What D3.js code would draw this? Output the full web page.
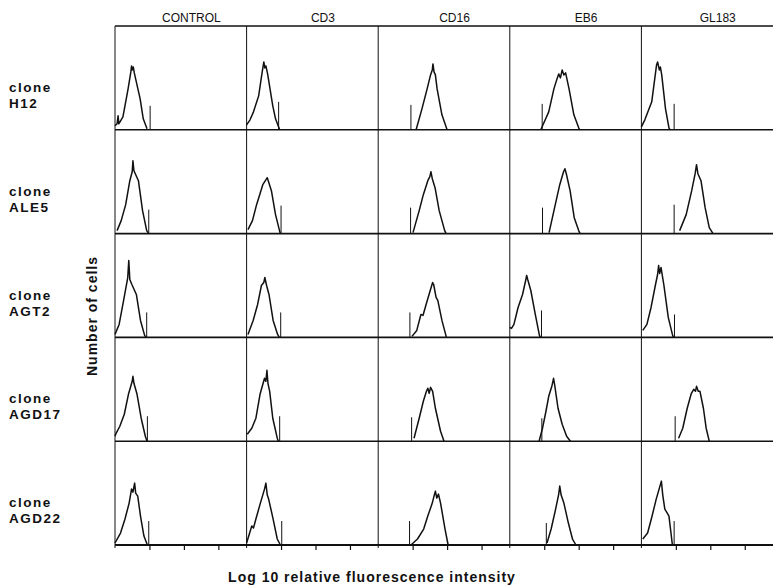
<!DOCTYPE html>
<html>
<head>
<meta charset="utf-8">
<script src="https://cdn.jsdelivr.net/npm/d3@7"></script>
<style>
  html, body { margin: 0; padding: 0; background: #fff; }
  svg { display: block; }
</style>
</head>
<body>
<div id="chart"></div>
<script>
const width = 773;
const height = 586;

const antibodies = ["CONTROL", "CD3", "CD16", "EB6", "GL183"];
const clones = ["H12", "ALE5", "AGT2", "AGD17", "AGD22"];
const decadeTicks = [1, 2, 3];

// [log10 intensity, number of cells], one list per antibody
const histH12 = [
    [[0,4],[0.06,6],[0.09,14],[0.11,6],[0.23,13],[0.38,41],[0.46,58],[0.48,64],[0.5,60],[0.53,63],[0.56,57],[0.73,31],[0.82,11],[0.93,1]],
    [[0,5],[0.1,10],[0.2,18],[0.35,34],[0.44,55],[0.5,68],[0.53,62],[0.56,64],[0.61,56],[0.76,24],[0.84,11],[0.96,0]],
    [[1.1,0],[1.27,21],[1.42,41],[1.52,55],[1.57,60],[1.59,66],[1.62,58],[1.66,55],[1.71,41],[1.85,15],[2.0,0]],
    [[0.9,0],[1.13,18],[1.28,41],[1.37,51],[1.42,56],[1.47,52],[1.52,60],[1.57,55],[1.62,57],[1.72,41],[1.86,15],[2.0,2],[2.03,0]],
    [[0,3],[0.1,10],[0.3,28],[0.44,65],[0.47,68],[0.52,60],[0.55,63],[0.59,55],[0.7,21],[0.8,2],[0.83,0]]
];
const histALE5 = [
    [[0.06,3],[0.18,13],[0.31,29],[0.43,53],[0.5,62],[0.52,73],[0.55,63],[0.68,53],[0.8,23],[0.92,3],[0.98,0]],
    [[0.04,4],[0.17,13],[0.29,29],[0.47,49],[0.6,56],[0.72,43],[0.84,19],[0.97,1],[0.99,0]],
    [[1.01,1],[1.19,23],[1.31,39],[1.44,53],[1.5,57],[1.53,62],[1.57,55],[1.65,46],[1.77,23],[1.93,3],[1.97,0]],
    [[1.14,1],[1.32,29],[1.45,49],[1.56,62],[1.6,65],[1.64,60],[1.75,43],[1.87,16],[2.0,3],[2.04,0]],
    [[1.11,3],[1.3,19],[1.46,43],[1.56,60],[1.6,69],[1.64,60],[1.73,53],[1.85,26],[1.97,6],[2.08,0]]
];
const histAGT2 = [
    [[0,3],[0.12,13],[0.25,37],[0.37,60],[0.4,77],[0.43,58],[0.49,53],[0.62,43],[0.74,17],[0.86,2],[0.9,0]],
    [[0.04,3],[0.19,17],[0.32,33],[0.43,52],[0.5,55],[0.53,60],[0.58,52],[0.65,43],[0.77,17],[0.9,3],[0.95,0]],
    [[0.98,1],[1.12,7],[1.24,23],[1.3,22],[1.39,33],[1.51,47],[1.58,55],[1.61,53],[1.68,40],[1.73,37],[1.85,17],[1.98,0]],
    [[0,10],[0.05,9],[0.12,13],[0.24,30],[0.37,43],[0.46,57],[0.49,62],[0.52,58],[0.61,47],[0.74,23],[0.86,2],[0.89,0]],
    [[0.04,7],[0.16,13],[0.28,30],[0.41,53],[0.47,63],[0.5,72],[0.53,64],[0.57,70],[0.65,53],[0.78,20],[0.9,3],[0.93,0]]
];
const histAGD17 = [
    [[0,5],[0.02,7],[0.14,15],[0.27,27],[0.39,47],[0.5,60],[0.52,65],[0.55,58],[0.64,47],[0.76,23],[0.88,5],[0.93,0]],
    [[0.02,7],[0.15,13],[0.27,23],[0.39,47],[0.52,63],[0.56,60],[0.59,71],[0.62,58],[0.67,50],[0.76,23],[0.89,3],[0.92,0]],
    [[1.04,3],[1.19,23],[1.31,40],[1.4,50],[1.44,53],[1.48,48],[1.52,54],[1.58,50],[1.66,33],[1.81,10],[1.91,0]],
    [[0.85,0],[0.95,13],[1.05,30],[1.13,45],[1.22,55],[1.27,63],[1.3,57],[1.4,33],[1.52,17],[1.65,5],[1.76,0]],
    [[1.08,3],[1.2,13],[1.33,33],[1.45,48],[1.52,52],[1.57,50],[1.6,55],[1.65,50],[1.7,50],[1.8,33],[1.88,13],[1.97,0]]
];
const histAGD22 = [
    [[0,2],[0.16,12],[0.29,26],[0.41,42],[0.48,56],[0.52,53],[0.57,62],[0.6,52],[0.66,49],[0.74,29],[0.84,9],[0.94,0]],
    [[0,2],[0.15,19],[0.2,17],[0.27,26],[0.4,42],[0.52,56],[0.56,62],[0.6,50],[0.64,46],[0.77,26],[0.89,6],[0.98,0]],
    [[0.95,0],[1.14,6],[1.32,16],[1.44,29],[1.57,42],[1.62,49],[1.66,54],[1.7,47],[1.75,51],[1.81,42],[1.94,16],[2.03,0]],
    [[1.08,2],[1.2,16],[1.33,36],[1.42,51],[1.45,59],[1.49,50],[1.57,42],[1.7,22],[1.82,6],[1.92,0]],
    [[0.04,6],[0.18,12],[0.31,29],[0.43,46],[0.53,58],[0.58,64],[0.62,50],[0.68,36],[0.75,32],[0.8,29],[0.9,0]]
];

// gate cursor per panel: [log10 position, height]
const markersH12 = [[1.02,24],[0.93,28],[0.95,25],[0.94,26],[0.95,26]];
const markersALE5 = [[0.98,24],[1.0,28],[0.94,26],[0.95,26],[0.95,29]];
const markersAGT2 = [[0.92,25],[0.99,25],[0.92,25],[0.92,27],[0.96,23]];
const markersAGD17 = [[0.94,25],[0.96,25],[0.97,24],[0.93,23],[0.98,25]];
const markersAGD22 = [[0.98,24],[1.02,24],[0.91,24],[1.06,22],[0.95,24]];

const histograms = [histH12, histALE5, histAGT2, histAGD17, histAGD22];
const markers = [markersH12, markersALE5, markersAGT2, markersAGD17, markersAGD22];

const gridLeft = 115, gridRight = 773, gridTop = 26, gridBottom = 545;
const font = "'Liberation Sans', Arial, Helvetica, sans-serif";

const colScale = d3.scaleBand().domain(antibodies).range([gridLeft, gridRight]);
const rowScale = d3.scaleBand().domain(clones).range([gridTop, gridBottom]);

const xScale = d3.scaleLinear().domain([0, 3.82]).range([0, colScale.bandwidth()]);
const yScale = d3.scaleLinear().domain([0, 104]).range([rowScale.bandwidth(), 0]);

const svg = d3.select("#chart").append("svg")
    .attr("width", width)
    .attr("height", height)
    .attr("viewBox", `0 0 ${width} ${height}`);

const line = d3.line()
    .x(d => xScale(d[0]))
    .y(d => yScale(d[1]));

// panels
clones.forEach((clone, r) => {
    antibodies.forEach((ab, c) => {
        const g = svg.append("g")
            .attr("transform", `translate(${colScale(ab)}, ${rowScale(clone)})`);

        g.append("path")
            .datum(histograms[r][c])
            .attr("d", line)
            .attr("fill", "none")
            .attr("stroke", "#111")
            .attr("stroke-width", 1.5)
            .attr("stroke-linejoin", "round");

        const m = markers[r][c];
        g.append("line")
            .attr("x1", xScale(m[0]))
            .attr("x2", xScale(m[0]))
            .attr("y1", yScale(0))
            .attr("y2", yScale(m[1]))
            .attr("stroke", "#111")
            .attr("stroke-width", 1);

        if (r === clones.length - 1) {
            g.append("g")
                .attr("transform", `translate(0, ${rowScale.bandwidth()})`)
                .call(d3.axisBottom(xScale).tickValues(decadeTicks).tickSize(5).tickFormat(""))
                .call(a => a.select(".domain").remove())
                .call(a => a.selectAll(".tick line").attr("stroke", "#111").attr("stroke-width", 1.2));
        }
    });
});

// grid: horizontal rules
const rules = [gridTop, ...clones.map(c => rowScale(c) + rowScale.bandwidth())];
svg.append("g")
    .selectAll("line")
    .data(rules)
    .join("line")
    .attr("x1", gridLeft)
    .attr("x2", gridRight)
    .attr("y1", d => d)
    .attr("y2", d => d)
    .attr("stroke", "#111")
    .attr("stroke-width", (d, i) => i === rules.length - 1 ? 2 : 1.6);

// grid: column dividers
svg.append("g")
    .selectAll("line")
    .data(antibodies)
    .join("line")
    .attr("x1", d => colScale(d))
    .attr("x2", d => colScale(d))
    .attr("y1", gridTop)
    .attr("y2", gridBottom + 3)
    .attr("stroke", "#111")
    .attr("stroke-width", 1);

// column headers
svg.append("g")
    .selectAll("text")
    .data(antibodies)
    .join("text")
    .attr("x", d => colScale(d) + colScale.bandwidth() * 0.58)
    .attr("y", 22)
    .attr("text-anchor", "middle")
    .style("font-family", font)
    .style("font-size", "12px")
    .style("fill", "#111")
    .text(d => d);

// row labels, two lines each
const labelStyle = sel => sel
    .style("font-family", font)
    .style("font-size", "13.5px")
    .style("font-weight", "bold")
    .style("letter-spacing", "1.5px")
    .style("fill", "#111");

const rowMid = d => rowScale(d) + rowScale.bandwidth() / 2;

svg.append("g")
    .selectAll("text")
    .data(clones)
    .join("text")
    .attr("x", 9)
    .attr("y", d => rowMid(d) + 14)
    .call(labelStyle)
    .text("clone");

svg.append("g")
    .selectAll("text")
    .data(clones)
    .join("text")
    .attr("x", 9)
    .attr("y", d => rowMid(d) + 30)
    .call(labelStyle)
    .text(d => d);

// axis titles
svg.append("text")
    .attr("transform", "translate(97, 316) rotate(-90)")
    .attr("text-anchor", "middle")
    .style("font-family", font)
    .style("font-size", "14px")
    .style("font-weight", "bold")
    .style("letter-spacing", "1px")
    .style("fill", "#111")
    .text("Number of cells");

svg.append("text")
    .attr("x", 372)
    .attr("y", 582)
    .attr("text-anchor", "middle")
    .style("font-family", font)
    .style("font-size", "14px")
    .style("font-weight", "bold")
    .style("letter-spacing", "1px")
    .style("fill", "#111")
    .text("Log 10 relative fluorescence intensity");
</script>
</body>
</html>
